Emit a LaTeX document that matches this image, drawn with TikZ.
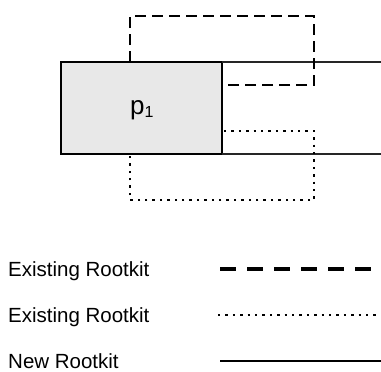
\documentclass[tikz,border=0pt]{standalone}
\usepackage{fontspec}
\setmainfont{Liberation Sans}
\begin{document}
\begin{tikzpicture}[x=1pt,y=-1pt,
  procbox/.style={draw=black,line width=1.8pt,fill=black!9},
  newline/.style={draw=black!85,line width=1.3pt},
  oldA/.style={draw=black,line width=2.8pt,dash pattern=on 11pt off 6pt},
  oldB/.style={draw=black,line width=2.4pt,dash pattern=on 2.4pt off 5pt},
  legtext/.style={anchor=base west,inner sep=0pt,font=\fontsize{20.5}{24}\selectfont}]
\useasboundingbox (0,0) rectangle (381,372);
% process box
\path[procbox] (61,62) rectangle (222,154);
\coordinate (bnw) at (61,62);
\coordinate (bne) at (222,62);
\coordinate (bse) at (222,154);
\node[inner sep=0pt,anchor=base west,font=\fontsize{26}{30}\selectfont] (p1) at (130,114) {p\raisebox{-3.5pt}{\fontsize{16}{16}\selectfont 1}};
% new rootkit lines
\coordinate (r1) at (381,62);
\coordinate (r2) at (381,154);
\draw[newline] (bne) -- (r1);
\draw[newline] (bse) -- (r2);
% existing rootkit (dashed)
\coordinate (a0) at (130,62);
\coordinate (a1) at (130,16);
\coordinate (a2) at (314,16);
\coordinate (a3) at (314,85);
\coordinate (a4) at (222,85);
\draw[oldA] (a0) -- (a1) -- (a2) -- (a3) -- (a4);
% existing rootkit (dotted)
\coordinate (d0) at (224,131);
\coordinate (d1) at (314,131);
\coordinate (d2) at (314,200);
\coordinate (d3) at (130,200);
\coordinate (d4) at (130,156);
\draw[oldB] (d0) -- (d1) -- (d2) -- (d3) -- (d4);
% legend
\node[legtext] (l1) at (8,276) {Existing Rootkit};
\node[legtext] (l2) at (8,322) {Existing Rootkit};
\node[legtext] (l3) at (8,368) {New Rootkit};
\coordinate (la) at (220,269);
\coordinate (lb) at (372,269);
\draw[line width=3.4pt,dash pattern=on 16pt off 11pt] (la) -- (lb);
\coordinate (lc) at (218,315);
\coordinate (ld) at (376,315);
\draw[oldB] (lc) -- (ld);
\coordinate (le) at (220,361);
\coordinate (lf) at (381,361);
\draw[line width=1.6pt] (le) -- (lf);
\end{tikzpicture}
\end{document}
